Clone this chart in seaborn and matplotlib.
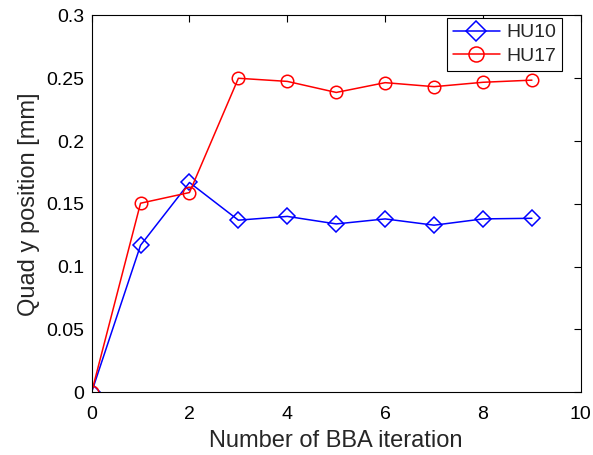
import matplotlib
matplotlib.use("Agg")
import matplotlib.pyplot as plt
import seaborn as sns
import pandas as pd

iterations = [0, 1, 2, 3, 4, 5, 6, 7, 8, 9]
hu10 = [0.0, 0.117, 0.167, 0.137, 0.140, 0.134, 0.138, 0.133, 0.138, 0.1385]
hu17 = [0.0, 0.1505, 0.159, 0.250, 0.2475, 0.2387, 0.2465, 0.2433, 0.2468, 0.2485]
series_names = ["HU10", "HU17"]
xticks = [0, 2, 4, 6, 8, 10]
yticks = [0, 0.05, 0.1, 0.15, 0.2, 0.25, 0.3]
yticklabels = ["0", "0.05", "0.1", "0.15", "0.2", "0.25", "0.3"]

sns.set_style("white")
plt.rcParams['font.family'] = ['Liberation Sans', 'DejaVu Sans']

fig = plt.figure(figsize=(5.93, 4.55), dpi=100)
ax = fig.add_axes([0.1545, 0.138, 0.825, 0.828])

df = pd.DataFrame({"x": iterations * 2,
                   "y": hu10 + hu17,
                   "s": [series_names[0]] * len(iterations) + [series_names[1]] * len(iterations)})

sns.lineplot(data=df[df.s == "HU10"], x="x", y="y", ax=ax, color="#0000ff", marker="D",
             markersize=8.3, markerfacecolor="none", markeredgecolor="#0000ff",
             markeredgewidth=1.1, linewidth=1.1, label="HU10")
sns.lineplot(data=df[df.s == "HU17"], x="x", y="y", ax=ax, color="#ff0000", marker="o",
             markersize=9, markerfacecolor="none", markeredgecolor="#ff0000",
             markeredgewidth=1.1, linewidth=1.1, label="HU17")

ax.set_xlim(0, 10)
ax.set_ylim(0, 0.3)
ax.set_xticks(xticks)
ax.set_xticklabels([str(t) for t in xticks])
ax.set_yticks(yticks)
ax.set_yticklabels(yticklabels)
ax.tick_params(direction="in", top=True, right=True, labelsize=14, length=5, width=0.8,
               colors="black")
ax.tick_params(axis="x", pad=10)
ax.tick_params(axis="y", pad=5.5)
for sp in ax.spines.values():
    sp.set_visible(True)
    sp.set_color("black")
    sp.set_linewidth(0.8)
ax.set_xlabel("Number of BBA iteration", fontsize=17, labelpad=5)
ax.set_ylabel("Quad y position [mm]", fontsize=17, labelpad=4)

leg = ax.legend(loc="upper right", bbox_to_anchor=(0.9616, 0.9933), fontsize=14, frameon=True,
                fancybox=False, edgecolor="black", framealpha=1, borderpad=0.3,
                handlelength=2.4, labelspacing=0.3, borderaxespad=0, handletextpad=0.35,
                markerscale=1.2)
leg.get_frame().set_linewidth(0.8)

fig.savefig("out.png", dpi=100)
